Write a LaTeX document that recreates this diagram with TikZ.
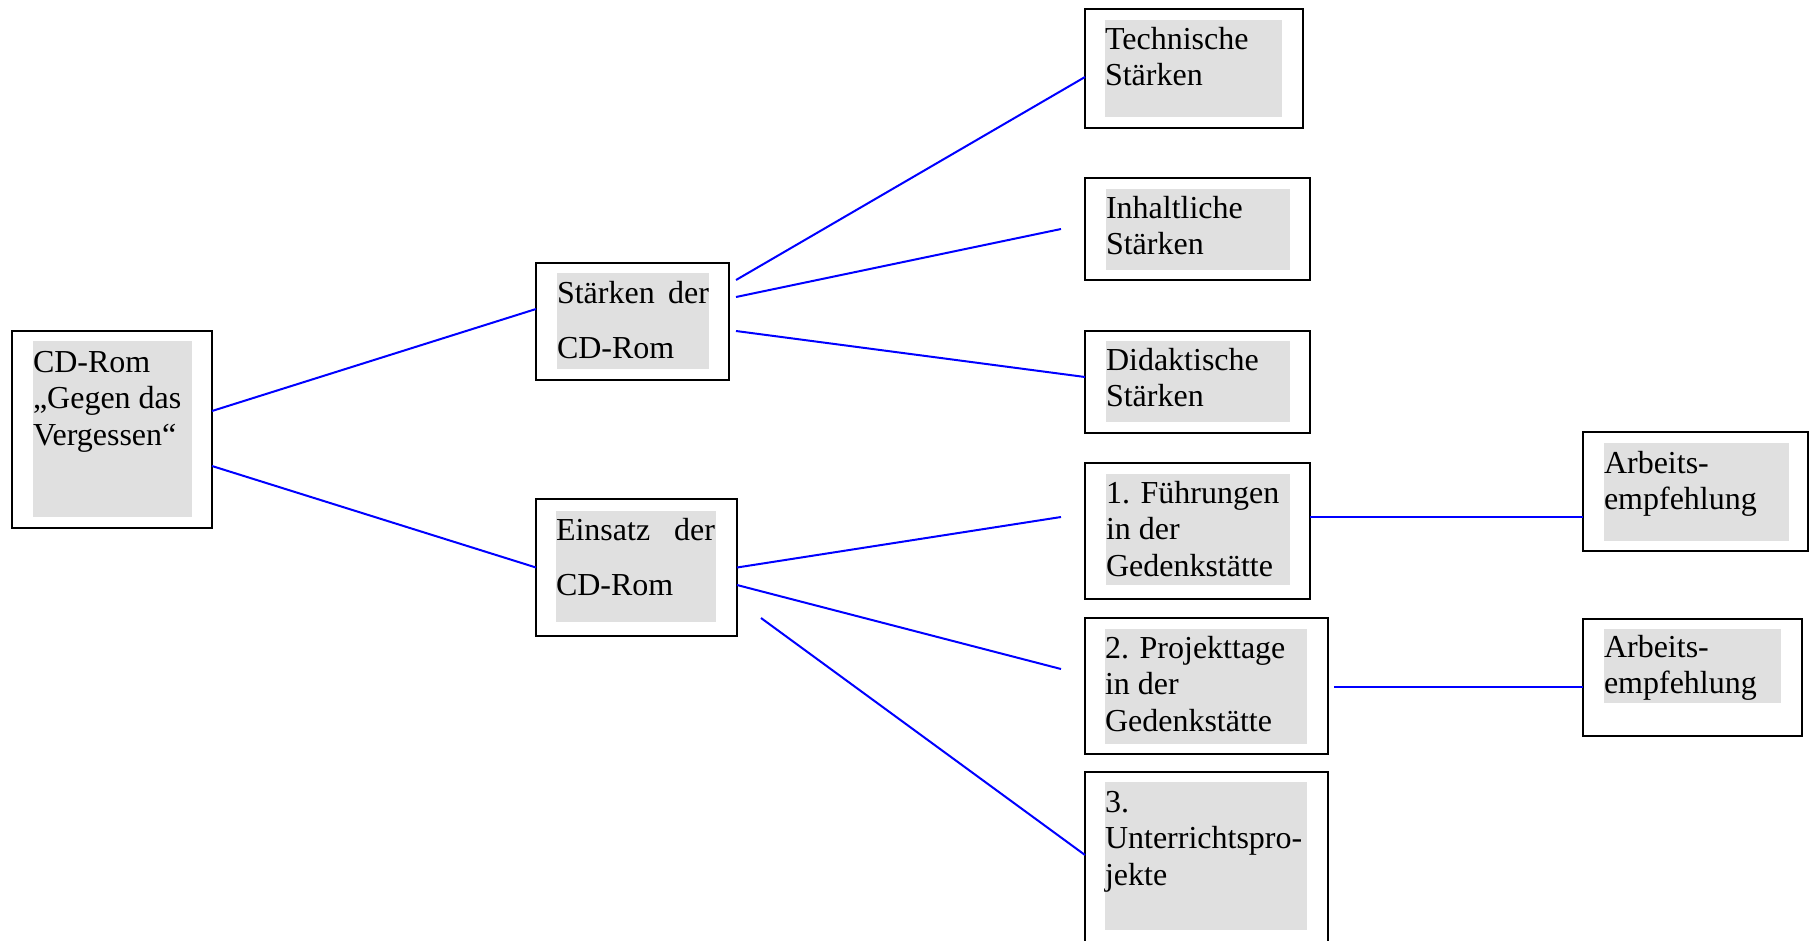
\documentclass[tikz,border=0pt]{standalone}
\usepackage{fontspec}
\setmainfont{Liberation Serif}
\definecolor{boxgrey}{RGB}{224,224,224}
\definecolor{linkblue}{RGB}{0,0,255}
\tikzset{
  outerbox/.style={draw=black, line width=2pt, inner sep=0pt, outer sep=0pt, anchor=north west},
  txt/.style={inner sep=0pt, outer sep=0pt, anchor=base west, font=\fontsize{32}{36.5}\selectfont},
  conn/.style={draw=linkblue, line width=2pt}
}
\begin{document}
\begin{tikzpicture}[x=1pt,y=-1pt]
\useasboundingbox (0,0) rectangle (1809,940);
% grey text backgrounds
\fill[boxgrey] (33,341) rectangle (192,517);
\fill[boxgrey] (557,273) rectangle (709,369);
\fill[boxgrey] (556,511) rectangle (716,622);
\fill[boxgrey] (1105,20) rectangle (1282,117);
\fill[boxgrey] (1106,189) rectangle (1290,270);
\fill[boxgrey] (1106,341) rectangle (1290,422);
\fill[boxgrey] (1106,474) rectangle (1290,585);
\fill[boxgrey] (1105,629) rectangle (1307,744);
\fill[boxgrey] (1105,782) rectangle (1307,930);
\fill[boxgrey] (1604,443) rectangle (1789,541);
\fill[boxgrey] (1604,629) rectangle (1781,703);
% boxes
\node[outerbox, minimum width=200, minimum height=197] (A) at (12,331) {};
\node[outerbox, minimum width=193, minimum height=117] (B) at (536,263) {};
\node[outerbox, minimum width=201, minimum height=137] (C) at (536,499) {};
\node[outerbox, minimum width=218, minimum height=119] (D) at (1085,9) {};
\node[outerbox, minimum width=225, minimum height=102] (E) at (1085,178) {};
\node[outerbox, minimum width=225, minimum height=102] (F) at (1085,331) {};
\node[outerbox, minimum width=225, minimum height=136] (G) at (1085,463) {};
\node[outerbox, minimum width=243, minimum height=136] (H) at (1085,618) {};
\node[outerbox, minimum width=243, minimum height=190] (I) at (1085,772) {};
\node[outerbox, minimum width=225, minimum height=119] (J) at (1583,432) {};
\node[outerbox, minimum width=219, minimum height=117] (K) at (1583,619) {};
% texts
\node[txt] (At) at (33,372) {\vtop{\hbox{CD-Rom}\hbox{„Gegen das}\hbox{Vergessen“}}};
\node[txt] (Bt) at (557,303) {\vtop{\baselineskip=55pt\hbox to 152pt{Stärken\hfill der}\hbox{CD-Rom}}};
\node[txt] (Ct) at (556,540) {\vtop{\baselineskip=55pt\hbox to 159pt{Einsatz\hfill der}\hbox{CD-Rom}}};
\node[txt] (Dt) at (1105,49) {\vtop{\hbox{Technische}\hbox{Stärken}}};
\node[txt] (Et) at (1106,218) {\vtop{\hbox{Inhaltliche}\hbox{Stärken}}};
\node[txt] (Ft) at (1106,370) {\vtop{\hbox{Didaktische}\hbox{Stärken}}};
\node[txt] (Gt) at (1106,503) {\vtop{\hbox{1. Führungen}\hbox{in der}\hbox{Gedenkstätte}}};
\node[txt] (Ht) at (1105,658) {\vtop{\hbox{2. Projekttage}\hbox{in der}\hbox{Gedenkstätte}}};
\node[txt] (It) at (1105,812) {\vtop{\hbox{3.}\hbox{Unterrichtspro-}\hbox{jekte}}};
\node[txt] (Jt) at (1604,473) {\vtop{\hbox{Arbeits-}\hbox{empfehlung}}};
\node[txt] (Kt) at (1604,657) {\vtop{\hbox{Arbeits-}\hbox{empfehlung}}};
% connectors
\draw[conn] ([yshift=18.5pt]A.east) -- ([yshift=12.5pt]B.west);
\draw[conn] ([yshift=-36.5pt]A.east) -- (C.west);
\draw[conn] ([xshift=7pt,yshift=41.5pt]B.east) -- ([yshift=-8.5pt]D.west);
\draw[conn] ([xshift=7pt,yshift=24.5pt]B.east) -- ([xshift=-24pt]E.west);
\draw[conn] ([xshift=7pt,yshift=-9.5pt]B.east) -- ([yshift=5pt]F.west);
\draw[conn] (C.east) -- ([xshift=-24pt,yshift=14pt]G.west);
\draw[conn] ([yshift=-17.5pt]C.east) -- ([xshift=-24pt,yshift=17pt]H.west);
\draw[conn] ([xshift=24pt,yshift=-50.5pt]C.east) -- ([yshift=-83pt]I.north west);
\draw[conn] ([yshift=14pt]G.east) -- ([yshift=-25.5pt]J.west);
\draw[conn] ([xshift=6pt,yshift=-1pt]H.east) -- ([yshift=-9.5pt]K.west);
\end{tikzpicture}
\end{document}
